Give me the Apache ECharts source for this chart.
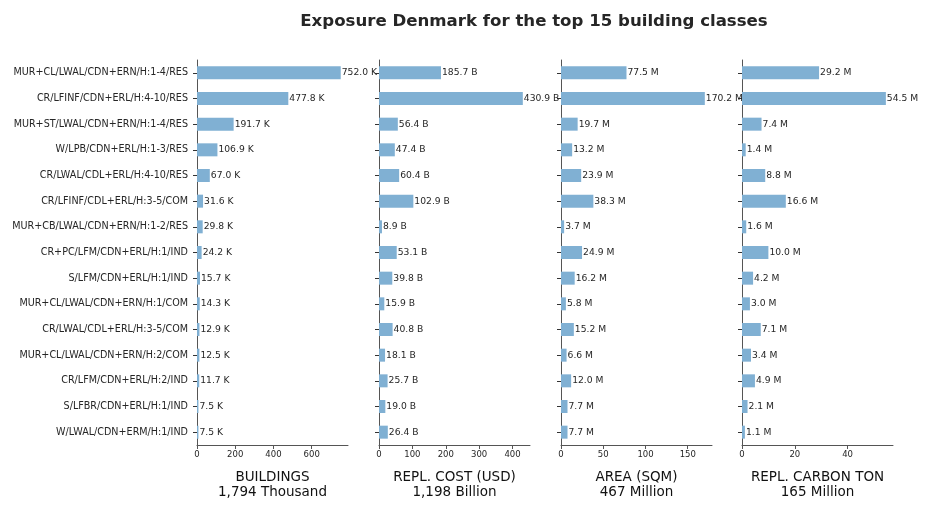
<!DOCTYPE html>
<html>
<head>
<meta charset="utf-8">
<script src="https://cdn.jsdelivr.net/npm/echarts@6/dist/echarts.min.js"></script>
<style>
  html, body { margin: 0; padding: 0; background: #fff; }
  #chart { width: 931px; height: 510px; }
</style>
</head>
<body>
<div id="chart"></div>
<script>
// top 15 building classes
const classes = [
  'MUR+CL/LWAL/CDN+ERN/H:1-4/RES',
  'CR/LFINF/CDN+ERL/H:4-10/RES',
  'MUR+ST/LWAL/CDN+ERN/H:1-4/RES',
  'W/LPB/CDN+ERL/H:1-3/RES',
  'CR/LWAL/CDL+ERL/H:4-10/RES',
  'CR/LFINF/CDL+ERL/H:3-5/COM',
  'MUR+CB/LWAL/CDN+ERN/H:1-2/RES',
  'CR+PC/LFM/CDN+ERL/H:1/IND',
  'S/LFM/CDN+ERL/H:1/IND',
  'MUR+CL/LWAL/CDN+ERN/H:1/COM',
  'CR/LWAL/CDL+ERL/H:3-5/COM',
  'MUR+CL/LWAL/CDN+ERN/H:2/COM',
  'CR/LFM/CDN+ERL/H:2/IND',
  'S/LFBR/CDN+ERL/H:1/IND',
  'W/LWAL/CDN+ERM/H:1/IND'
];

// values per panel (thousand / billion / million / million)
const buildings = [752.0, 477.8, 191.7, 106.9, 67.0, 31.6, 29.8, 24.2, 15.7, 14.3, 12.9, 12.5, 11.7, 7.5, 7.5];
const replCost = [185.7, 430.9, 56.4, 47.4, 60.4, 102.9, 8.9, 53.1, 39.8, 15.9, 40.8, 18.1, 25.7, 19.0, 26.4];
const area = [77.5, 170.2, 19.7, 13.2, 23.9, 38.3, 3.7, 24.9, 16.2, 5.8, 15.2, 6.6, 12.0, 7.7, 7.7];
const carbon = [29.2, 54.5, 7.4, 1.4, 8.8, 16.6, 1.6, 10.0, 4.2, 3.0, 7.1, 3.4, 4.9, 2.1, 1.1];

// x tick labels per panel
const ticksBuildings = [0, 200, 400, 600];
const ticksCost = [0, 100, 200, 300, 400];
const ticksArea = [0, 50, 100, 150];
const ticksCarbon = [0, 20, 40];

const axisMax = [790, 452.4, 178.7, 57.2];
const axisTitles = [
  'BUILDINGS\n1,794 Thousand',
  'REPL. COST (USD)\n1,198 Billion',
  'AREA (SQM)\n467 Million',
  'REPL. CARBON TON\n165 Million'
];
const units = ['K', 'B', 'M', 'M'];

const panels = [
  { data: buildings, ticks: ticksBuildings },
  { data: replCost, ticks: ticksCost },
  { data: area, ticks: ticksArea },
  { data: carbon, ticks: ticksCarbon }
];

const FONT = 'DejaVu Sans';
const lefts = [197, 379, 561, 742];
const axisColor = '#555';
const textColor = '#262626';

const chart = echarts.init(document.getElementById('chart'));

const option = {
  animation: false,
  textStyle: { fontFamily: FONT },
  title: {
    text: 'Exposure Denmark for the top 15 building classes',
    left: 534,
    textAlign: 'center',
    top: 8,
    textStyle: { fontFamily: FONT, fontSize: 16.6, fontWeight: 'bold', color: '#262626' }
  },
  grid: lefts.map(l => ({ left: l, top: 60, width: 151, height: 385 })),
  xAxis: panels.map((p, i) => ({
    type: 'value',
    gridIndex: i,
    min: 0,
    max: axisMax[i],
    name: axisTitles[i],
    nameLocation: 'middle',
    nameGap: 25,
    nameTextStyle: { fontFamily: FONT, fontSize: 13.5, color: '#111', lineHeight: 15, verticalAlign: 'top' },
    axisLine: { show: true, lineStyle: { color: axisColor, width: 1 } },
    axisTick: { show: true, length: 4, lineStyle: { color: axisColor }, customValues: p.ticks },
    axisLabel: { fontFamily: FONT, fontSize: 8.5, color: textColor, margin: 5, customValues: p.ticks },
    splitLine: { show: false }
  })),
  yAxis: panels.map((p, i) => ({
    type: 'category',
    gridIndex: i,
    data: classes,
    inverse: true,
    axisLine: { show: true, lineStyle: { color: axisColor, width: 1 } },
    axisTick: { show: true, length: 4, alignWithLabel: true, lineStyle: { color: '#333' } },
    axisLabel: { show: i === 0, fontFamily: FONT, fontSize: 9.6, color: textColor, margin: 9 },
    splitLine: { show: false }
  })),
  series: panels.map((p, i) => ({
    type: 'bar',
    xAxisIndex: i,
    yAxisIndex: i,
    data: p.data,
    barWidth: 13,
    itemStyle: { color: '#80b0d3' },
    label: {
      show: true,
      position: 'right',
      distance: 1,
      fontFamily: FONT,
      fontSize: 9.2,
      color: textColor,
      formatter: d => d.value.toFixed(1) + ' ' + units[i]
    },
    z: 2 + i
  }))
};

// title is centred on x=534 in the reference; ECharts puts 'left' at the text anchor
option.title.left = 529;

chart.setOption(option);
</script>
</body>
</html>
